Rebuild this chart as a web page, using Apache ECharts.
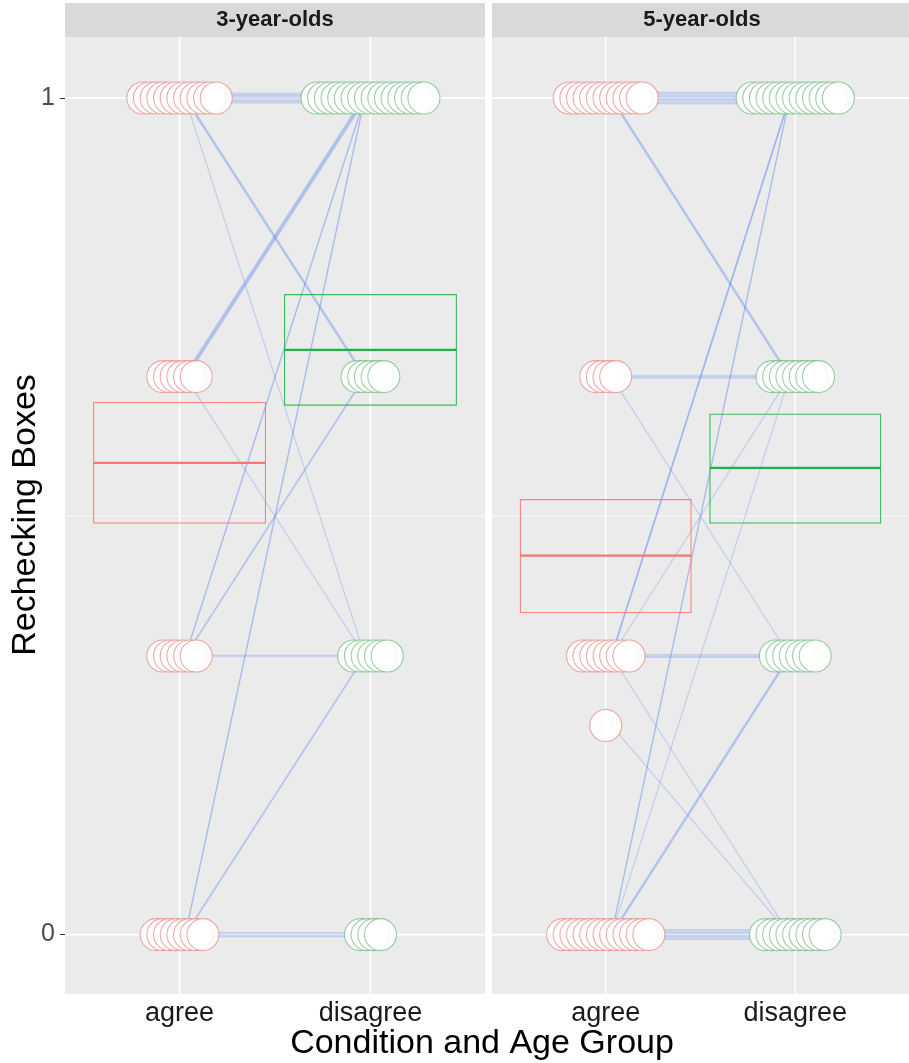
<!DOCTYPE html>
<html><head><meta charset="utf-8">
<script src="https://cdn.jsdelivr.net/npm/echarts@6/dist/echarts.min.js"></script>
<style>html,body{margin:0;padding:0;background:#fff}#c{width:909px;height:1063px}</style>
</head><body><div id="c"></div>
<script>
// ---------- data ----------
const panels = ['3-year-olds', '5-year-olds'];
const conditions = ['agree', 'disagree'];
const yTickValues = [0, 1];
const yMinorGrid = [0.5];

// one entry per child: score in agree condition / disagree condition
const agree3 = [1,1,1,1,1,1,1,1, 1,1,1, 1, 0.667,0.667,0.667,0.667,0.667, 0.667,
  0.333,0.333, 0.333,0.333, 0.333,0.333, 0,0, 0,0, 0,0,0,0];
const disagree3 = [1,1,1,1,1,1,1,1, 0.667,0.667,0.667, 0.333, 1,1,1,1,1, 0.333,
  1,1, 0.667,0.667, 0.333,0.333, 1,1, 0.333,0.333, 0,0,0,0];

const agree5 = [1,1,1,1,1,1,1,1,1, 1,1,1, 0.667,0.667,0.667, 0.667,
  0.333,0.333,0.333, 0.333, 0.333,0.333,0.333, 0.333, 0.25,
  0,0, 0, 0,0,0, 0,0,0,0,0,0,0,0];
const disagree5 = [1,1,1,1,1,1,1,1,1, 0.667,0.667,0.667, 0.667,0.667,0.667, 0.333,
  1,1,1, 0.667, 0.333,0.333,0.333, 0, 0,
  1,1, 0.667, 0.333,0.333,0.333, 0,0,0,0,0,0,0,0];

// mean +/- SE crossbars [agree, disagree]
const boxMean3 = [0.564, 0.699];
const boxLow3  = [0.492, 0.633];
const boxHigh3 = [0.636, 0.765];
const boxMean5 = [0.453, 0.558];
const boxLow5  = [0.385, 0.492];
const boxHigh5 = [0.520, 0.622];

// ---------- helpers ----------
const RED = '#F8766D', GREEN = '#1DB446';
const DODGE = 0.035;
function dodge(values, xPos) {
  const groups = new Map();
  values.forEach(v => { groups.set(v, (groups.get(v) || 0) + 1); });
  const out = [];
  groups.forEach((n, v) => {
    for (let i = 0; i < n; i++) out.push([xPos + (i - (n - 1) / 2) * DODGE, v]);
  });
  return out;
}
// each line gets its rank inside the bundle of identical (agree, disagree) pairs
function pairs(a, d) {
  const counts = new Map(), seen = new Map();
  a.forEach((v, i) => { const k = v + '|' + d[i]; counts.set(k, (counts.get(k) || 0) + 1); });
  return a.map((v, i) => {
    const k = v + '|' + d[i];
    const r = seen.get(k) || 0; seen.set(k, r + 1);
    return [v, d[i], r - (counts.get(k) - 1) / 2];
  });
}

const panelData = [
  {agree: agree3, disagree: disagree3, mean: boxMean3, low: boxLow3, high: boxHigh3},
  {agree: agree5, disagree: disagree5, mean: boxMean5, low: boxLow5, high: boxHigh5}
];

const gridLeft = [65, 492], gridW = 420, gridTop = 37, gridH = 957;

const grids = [], xAxes = [], yAxes = [], series = [], graphics = [];
panelData.forEach((pd, g) => {
  grids.push({left: gridLeft[g], top: gridTop, width: gridW, height: gridH, show: true,
    backgroundColor: '#EBEBEB', borderWidth: 0});
  xAxes.push({type: 'value', gridIndex: g, min: 0.4, max: 2.6,
    axisLine: {show: false}, splitLine: {show: false},
    axisTick: {show: true, customValues: [1, 2], length: 4, lineStyle: {color: '#333', width: 1}},
    axisLabel: {show: true, customValues: [1, 2], formatter: v => conditions[Math.round(v) - 1],
      fontSize: 27, color: '#1a1a1a', margin: 6, fontFamily: 'Liberation Sans'}});
  yAxes.push({type: 'value', gridIndex: g, min: -0.071, max: 1.073,
    axisLine: {show: false}, splitLine: {show: false},
    axisTick: {show: g === 0, customValues: yTickValues, length: 5, lineStyle: {color: '#333', width: 1}},
    axisLabel: {show: g === 0, customValues: yTickValues, formatter: v => String(v),
      fontSize: 25, color: '#4D4D4D', margin: 10, fontFamily: 'Liberation Sans'}});

  // gridlines
  const gl = [];
  [1, 2].forEach(v => gl.push([0, v]));
  yTickValues.forEach(v => gl.push([1, v]));
  yMinorGrid.forEach(v => gl.push([2, v]));
  series.push({type: 'custom', xAxisIndex: g, yAxisIndex: g, z: 1, silent: true,
    data: gl,
    renderItem(params, api) {
      const cs = params.coordSys;
      const kind = api.value(0), v = api.value(1);
      if (kind === 0) {
        const p = api.coord([v, 0]);
        return {type: 'line', shape: {x1: p[0], y1: cs.y, x2: p[0], y2: cs.y + cs.height},
          style: {stroke: '#ffffff', lineWidth: 1.6}};
      }
      const p = api.coord([1, v]);
      return {type: 'line', shape: {x1: cs.x, y1: p[1], x2: cs.x + cs.width, y2: p[1]},
        style: {stroke: '#ffffff', lineWidth: kind === 1 ? 1.6 : 0.8}};
    }});

  // participant lines
  series.push({type: 'custom', xAxisIndex: g, yAxisIndex: g, z: 2, silent: true,
    data: pairs(pd.agree, pd.disagree),
    renderItem(params, api) {
      const off = api.value(2) * 1.4;
      const p1 = api.coord([1.03, api.value(0)]);
      const p2 = api.coord([1.97, api.value(1)]);
      return {type: 'line', shape: {x1: p1[0], y1: p1[1] + off, x2: p2[0], y2: p2[1] + off},
        style: {stroke: 'rgba(95,135,235,0.3)', lineWidth: 1.2}};
    }});

  // crossbars
  series.push({type: 'custom', xAxisIndex: g, yAxisIndex: g, z: 3, silent: true,
    data: conditions.map((c, i) => [i + 1, pd.mean[i], pd.low[i], pd.high[i]]),
    renderItem(params, api) {
      const x = api.value(0);
      const col = x === 1 ? RED : GREEN;
      const tl = api.coord([x - 0.45, api.value(3)]);
      const br = api.coord([x + 0.45, api.value(2)]);
      const m = api.coord([x, api.value(1)]);
      return {type: 'group', children: [
        {type: 'rect', shape: {x: tl[0], y: tl[1], width: br[0] - tl[0], height: br[1] - tl[1]},
          style: {fill: 'none', stroke: col, lineWidth: 1.1, opacity: 0.85}},
        {type: 'line', shape: {x1: tl[0], y1: m[1], x2: br[0], y2: m[1]},
          style: {stroke: col, lineWidth: 2.2}}
      ]};
    }});

  // points
  series.push({type: 'scatter', xAxisIndex: g, yAxisIndex: g, z: 4, silent: true,
    symbol: 'circle', symbolSize: 32, data: dodge(pd.agree, 1),
    itemStyle: {color: 'rgba(255,255,255,0.88)', borderColor: 'rgba(232,140,135,0.75)', borderWidth: 1.1, opacity: 1}});
  series.push({type: 'scatter', xAxisIndex: g, yAxisIndex: g, z: 4, silent: true,
    symbol: 'circle', symbolSize: 32, data: dodge(pd.disagree, 2),
    itemStyle: {color: 'rgba(255,255,255,0.88)', borderColor: 'rgba(90,175,105,0.6)', borderWidth: 1.1, opacity: 1}});

  // strip
  graphics.push({type: 'rect', left: gridLeft[g], top: 3, shape: {width: gridW, height: 34},
    style: {fill: '#D9D9D9'}});
  graphics.push({type: 'text', x: gridLeft[g] + gridW / 2, y: 20,
    style: {text: panels[g], fontSize: 22, fontWeight: 'bold', fill: '#1a1a1a',
      fontFamily: 'Liberation Sans', align: 'center', verticalAlign: 'middle'}});
});

graphics.push({type: 'text', x: 482, y: 1044,
  style: {text: 'Condition and Age Group', fontSize: 34, fill: '#000',
    fontFamily: 'Liberation Sans', align: 'center', verticalAlign: 'middle'}});
graphics.push({type: 'text', x: 26, y: 515, rotation: Math.PI / 2,
  style: {text: 'Rechecking Boxes', fontSize: 34, fill: '#000',
    fontFamily: 'Liberation Sans', align: 'center', verticalAlign: 'middle'}});

const chart = echarts.init(document.getElementById('c'), null, {renderer: 'canvas'});
chart.setOption({
  animation: false,
  backgroundColor: '#ffffff',
  grid: grids, xAxis: xAxes, yAxis: yAxes, series: series, graphic: graphics
});
</script></body></html>
